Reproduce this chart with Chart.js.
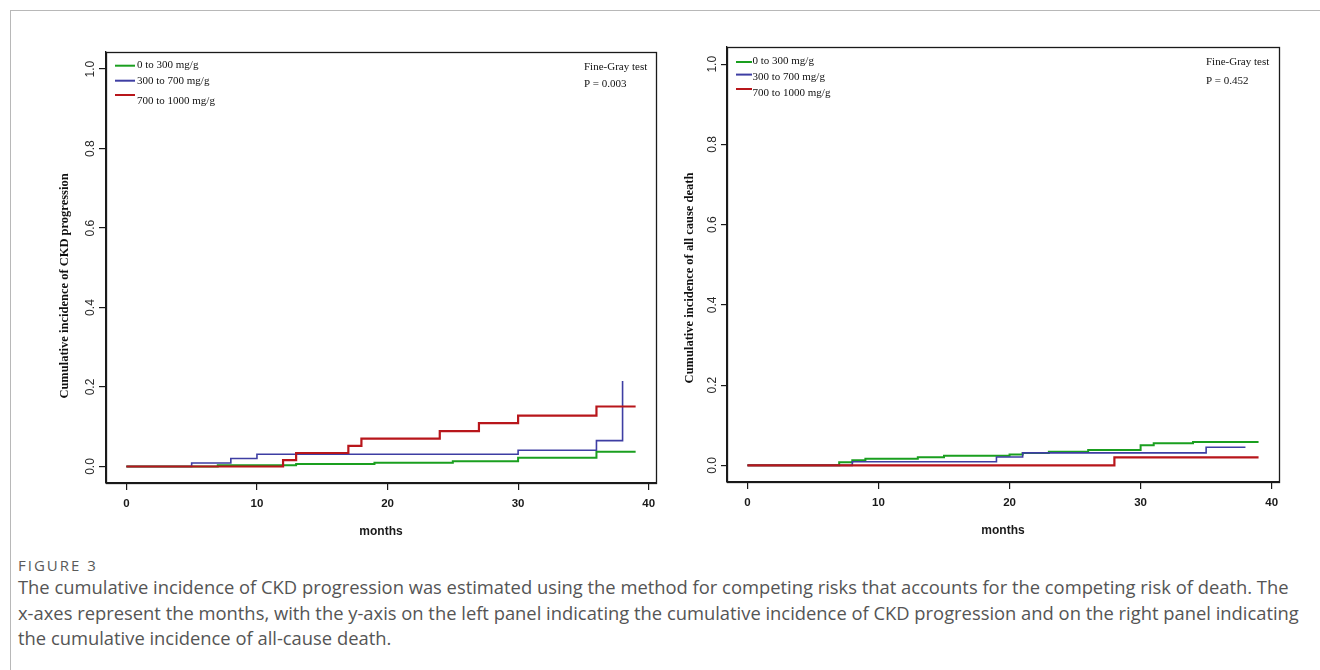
<!DOCTYPE html>
<html><head><meta charset="utf-8">
<script src="https://cdn.jsdelivr.net/npm/chart.js@4.4.1/dist/chart.umd.min.js"></script>
<style>
html,body{margin:0;padding:0;background:#fff;width:1320px;height:670px;overflow:hidden;}
#frame{position:absolute;left:10px;top:10px;width:1320px;height:670px;border-top:1.5px solid #b8b8b8;border-left:1.5px solid #b8b8b8;}
.panel{position:absolute;}
.cap{position:absolute;left:18px;font-family:'Open Sans',sans-serif;color:#555;white-space:nowrap;}
#figno{top:555px;font-size:15px;line-height:20px;color:#5a5a5a;letter-spacing:2px;}
.cl{line-height:26px;}
</style></head>
<body>
<div id="frame"></div>
<div class="panel" style="left:40px;top:30px;width:630px;height:520px;"><canvas id="c1" width="630" height="520"></canvas></div>
<div class="panel" style="left:670px;top:30px;width:640px;height:520px;"><canvas id="c2" width="640" height="520"></canvas></div>
<div class="cap" id="figno">FIGURE 3</div>
<div class="cap cl" id="l1" style="top:574px">The cumulative incidence of CKD progression was estimated using the method for competing risks that accounts for the competing risk of death. The</div>
<div class="cap cl" id="l2" style="top:600px">x-axes represent the months, with the y-axis on the left panel indicating the cumulative incidence of CKD progression and on the right panel indicating</div>
<div class="cap cl" id="l3" style="top:625px">the cumulative incidence of all-cause death.</div>
<script>
// ---- data ----
const groupLabels = ['0 to 300 mg/g', '300 to 700 mg/g', '700 to 1000 mg/g'];
const testName = 'Fine-Gray test';
const pLeft = 'P = 0.003';
const pRight = 'P = 0.452';
const xTitle = 'months';
const yTitleLeft = 'Cumulative incidence of CKD progression';
const yTitleRight = 'Cumulative incidence of all cause death';

// left panel: CKD progression (time in months, cumulative incidence)
const ckdLowT  = [0, 7, 13, 19, 25, 30, 36, 39];
const ckdLowV  = [0, 0.003, 0.006, 0.0095, 0.0135, 0.022, 0.037, 0.037];
const ckdMidT  = [0, 5, 8, 10, 30, 36, 38];
const ckdMidV  = [0, 0.009, 0.020, 0.031, 0.041, 0.065, 0.215];
const ckdHighT = [0, 12, 13, 17, 18, 24, 27, 30, 36, 39];
const ckdHighV = [0, 0.016, 0.034, 0.052, 0.070, 0.089, 0.109, 0.128, 0.151, 0.151];

// right panel: all cause death
const deathLowT  = [0, 7, 8, 9, 13, 15, 20, 21, 23, 26, 30, 31, 34, 39];
const deathLowV  = [0, 0.0075, 0.013, 0.0165, 0.020, 0.024, 0.027, 0.031, 0.034, 0.038, 0.050, 0.055, 0.058, 0.058];
const deathMidT  = [0, 8, 19, 21, 35, 38];
const deathMidV  = [0, 0.009, 0.021, 0.031, 0.045, 0.045];
const deathHighT = [0, 28, 39];
const deathHighV = [0, 0.020, 0.020];

// ---- styles ----
const colors = ['#1a9f1f', '#3e3ea3', '#b8161b'];
const widths = [2, 1.6, 2.2];

function pts(t, v) { return t.map((x, i) => ({x: x, y: v[i]})); }

const boxLegend = {
  id: 'boxLegend',
  afterDraw(chart, args, o) {
    const {ctx, chartArea: a} = chart;
    ctx.save();
    ctx.strokeStyle = '#1a1a1a';
    ctx.lineWidth = 1.3;
    ctx.strokeRect(Math.round(a.left) + 0.5, Math.round(a.top) + 0.5, Math.round(a.right - a.left), Math.round(a.bottom - a.top));
    ctx.font = '11px "Liberation Serif", "Times New Roman", serif';
    ctx.textBaseline = 'middle';
    ctx.textAlign = 'left';
    chart.data.datasets.forEach((ds, i) => {
      ctx.strokeStyle = ds.borderColor;
      ctx.lineWidth = 2;
      ctx.beginPath();
      ctx.moveTo(a.left + o.lx0, a.top + o.ly[i]);
      ctx.lineTo(a.left + o.lx1, a.top + o.ly[i]);
      ctx.stroke();
      ctx.fillStyle = '#111';
      ctx.fillText(ds.label, a.left + o.tx, a.top + o.ty[i]);
    });
    ctx.fillStyle = '#111';
    ctx.fillText(testName, a.left + o.fx, a.top + o.fy);
    ctx.fillText(o.p, a.left + o.fx, a.top + o.py);
    // y axis title (R-style placement)
    ctx.save();
    ctx.translate(o.yTitleX, o.yTitleY);
    ctx.rotate(-Math.PI / 2);
    ctx.font = 'bold 12.5px "Liberation Serif", "Times New Roman", serif';
    ctx.textAlign = 'center';
    ctx.textBaseline = 'middle';
    ctx.fillStyle = '#111';
    ctx.fillText(o.yTitle, 0, 0);
    ctx.restore();
    ctx.restore();
  }
};

function makePanel(id, sets, g, leg) {
  return new Chart(document.getElementById(id), {
    type: 'line',
    data: {
      datasets: sets.map((s, i) => ({
        label: groupLabels[i],
        data: s,
        borderColor: colors[i],
        borderWidth: widths[i],
        stepped: 'before',
        pointRadius: 0,
        fill: false,
        order: 3 - i
      }))
    },
    plugins: [boxLegend],
    options: {
      responsive: false,
      animation: false,
      devicePixelRatio: 1,
      layout: {padding: {left: 0, top: g.top, right: g.right, bottom: 0}},
      plugins: {
        legend: {display: false},
        tooltip: {enabled: false},
        boxLegend: leg
      },
      scales: {
        x: {
          type: 'linear',
          min: -1.56, max: 40.56,
          afterFit: s => { s.height = g.xH; },
          ticks: {stepSize: 10, includeBounds: false, padding: 7, color: '#1a1a1a',
                  font: {family: '"Liberation Sans", Arial', size: 11.5, weight: 'bold'},
                  maxRotation: 0, callback: v => String(v)},
          grid: {drawOnChartArea: false, drawTicks: true, tickLength: 7, color: '#1a1a1a', lineWidth: 1.2},
          border: {display: true, color: '#1a1a1a', width: 1.3},
          title: {display: true, text: xTitle, color: '#1a1a1a',
                  font: {family: '"Liberation Sans", Arial', size: 12, weight: 'bold'},
                  padding: {top: 0, bottom: g.xtPad}}
        },
        y: {
          type: 'linear',
          min: -0.0415, max: 1.043,
          afterFit: s => { s.width = g.yW; },
          ticks: {stepSize: 0.2, includeBounds: false, padding: 0, color: '#2a2a2a',
                  minRotation: 90, maxRotation: 90, crossAlign: 'center',
                  font: {family: '"Liberation Sans", Arial', size: 12},
                  callback: v => v.toFixed(1)},
          grid: {drawOnChartArea: false, drawTicks: true, tickLength: g.ytl, color: '#1a1a1a', lineWidth: 1.2},
          border: {display: true, color: '#1a1a1a', width: 1.3}
        }
      }
    }
  });
}

makePanel('c1',
  [pts(ckdLowT, ckdLowV), pts(ckdMidT, ckdMidV), pts(ckdHighT, ckdHighV)],
  {top: 22, right: 14, xH: 67, yW: 66, ytl: 7, xtPad: 11},
  {lx0: 9, lx1: 29, ly: [13.7, 28.7, 43], tx: 31, ty: [13, 29, 48.7], fx: 478, fy: 14.7, py: 32, p: pLeft,
   yTitle: yTitleLeft, yTitleX: 25, yTitleY: 256});

makePanel('c2',
  [pts(deathLowT, deathLowV), pts(deathMidT, deathMidV), pts(deathHighT, deathHighV)],
  {top: 17, right: 31, xH: 68, yW: 57, ytl: 6, xtPad: 12},
  {lx0: 9, lx1: 25, ly: [15, 27.6, 42], tx: 25.5, ty: [14.3, 30.3, 46.6], fx: 479, fy: 15.6, py: 34, p: pRight,
   yTitle: yTitleRight, yTitleX: 20, yTitleY: 248});

// caption sizing: fit first line to the caption width of the figure
(function () {
  const c = document.createElement('canvas').getContext('2d');
  c.font = '100px "Open Sans"';
  const w = c.measureText(document.getElementById('l1').textContent).width;
  const size = 100 * 1272 / w;
  ['l1', 'l2', 'l3'].forEach(id => { document.getElementById(id).style.fontSize = size.toFixed(2) + 'px'; });
})();
</script>
</body></html>
